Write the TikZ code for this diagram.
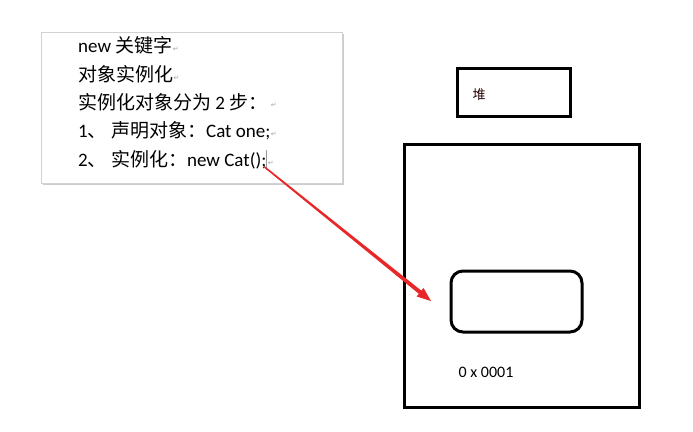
\documentclass[tikz,border=0pt]{standalone}
\usepackage{fontspec}
\setmainfont{Carlito}
\newfontfamily\cjk{Noto Sans CJK SC}
\newfontfamily\symf{DejaVu Sans}
\usetikzlibrary{shadows,arrows.meta,calc}
\definecolor{arrowred}{RGB}{232,40,40}
\begin{document}
\begin{tikzpicture}[x=1pt,y=-1pt,
  line/.style={anchor=west,inner sep=0pt,font=\fontsize{19pt}{21pt}\selectfont},
  pilcrow/.style={anchor=west,inner sep=0pt,text=gray!70,font=\symf\fontsize{7pt}{8pt}\selectfont},
  thickbox/.style={draw=black,line width=3.5pt},
]
\useasboundingbox (0,0) rectangle (693,431);
% text panel
\node[draw=gray!35,fill=white,minimum width=301pt,minimum height=151pt,inner sep=0pt,
  drop shadow={shadow xshift=1.5pt,shadow yshift=-1.5pt,opacity=0.4}] (panel) at (191.5,107.5) {};
\node[line] (l1) at (78,45) {new {\cjk 关键字}};
\node[line] (l2) at (78,74) {{\cjk 对象实例化}};
\node[line] (l3) at (78,102) {{\cjk 实例化对象分为} 2 {\cjk 步：}};
\node[line] (l4) at (78,131) {1{\cjk 、} {\cjk 声明对象：}Cat one;};
\node[line] (l5) at (78,160) {2{\cjk 、} {\cjk 实例化：}new Cat();};
\node[pilcrow] (p1) at ([yshift=-4pt]l1.east) {↵};
\node[pilcrow] (p2) at ([yshift=-4pt]l2.east) {↵};
\node[pilcrow] (p3) at ([xshift=3pt,yshift=-3pt]l3.east) {↵};
\node[pilcrow] (p4) at ([yshift=-3pt]l4.east) {↵};
\node[pilcrow] (p5) at ([xshift=1pt,yshift=-3pt]l5.east) {↵};
\draw[gray!80,line width=0.6pt] ([yshift=10pt]l5.east) -- ([yshift=-10pt]l5.east);
% heap label box
\node[thickbox,minimum width=113pt,minimum height=48pt,inner sep=0pt] (heap) at (514,92.5) {};
\node[inner sep=0pt,font=\cjk\fontsize{13pt}{14pt}\selectfont,text=black!85!red] (heaptxt) at (479,95) {堆};
% heap area
\node[thickbox,minimum width=235pt,minimum height=263pt,inner sep=0pt] (area) at (522,276) {};
\node[draw=black,line width=3pt,rounded corners=12pt,minimum width=131pt,minimum height=61pt,inner sep=0pt] (obj) at (516.5,301.5) {};
\node[inner sep=0pt,font=\fontsize{16pt}{18pt}\selectfont] (addr) at (486,372) {0 x 0001};
% tapered arrow
\coordinate (a0) at ([xshift=-2pt,yshift=-7pt]l5.east);
\coordinate (a1) at (431,301);
\coordinate (ab) at ($(a1)!14pt!(a0)$);
\fill[arrowred]
  ($(a0)!0.8pt!90:(a1)$) -- ($(ab)!2pt!90:(a1)$) -- ($(ab)!5.5pt!90:(a1)$)
  -- (a1) -- ($(ab)!5.5pt!-90:(a1)$) -- ($(ab)!2pt!-90:(a1)$)
  -- ($(a0)!0.8pt!-90:(a1)$) -- cycle;
\end{tikzpicture}
\end{document}
